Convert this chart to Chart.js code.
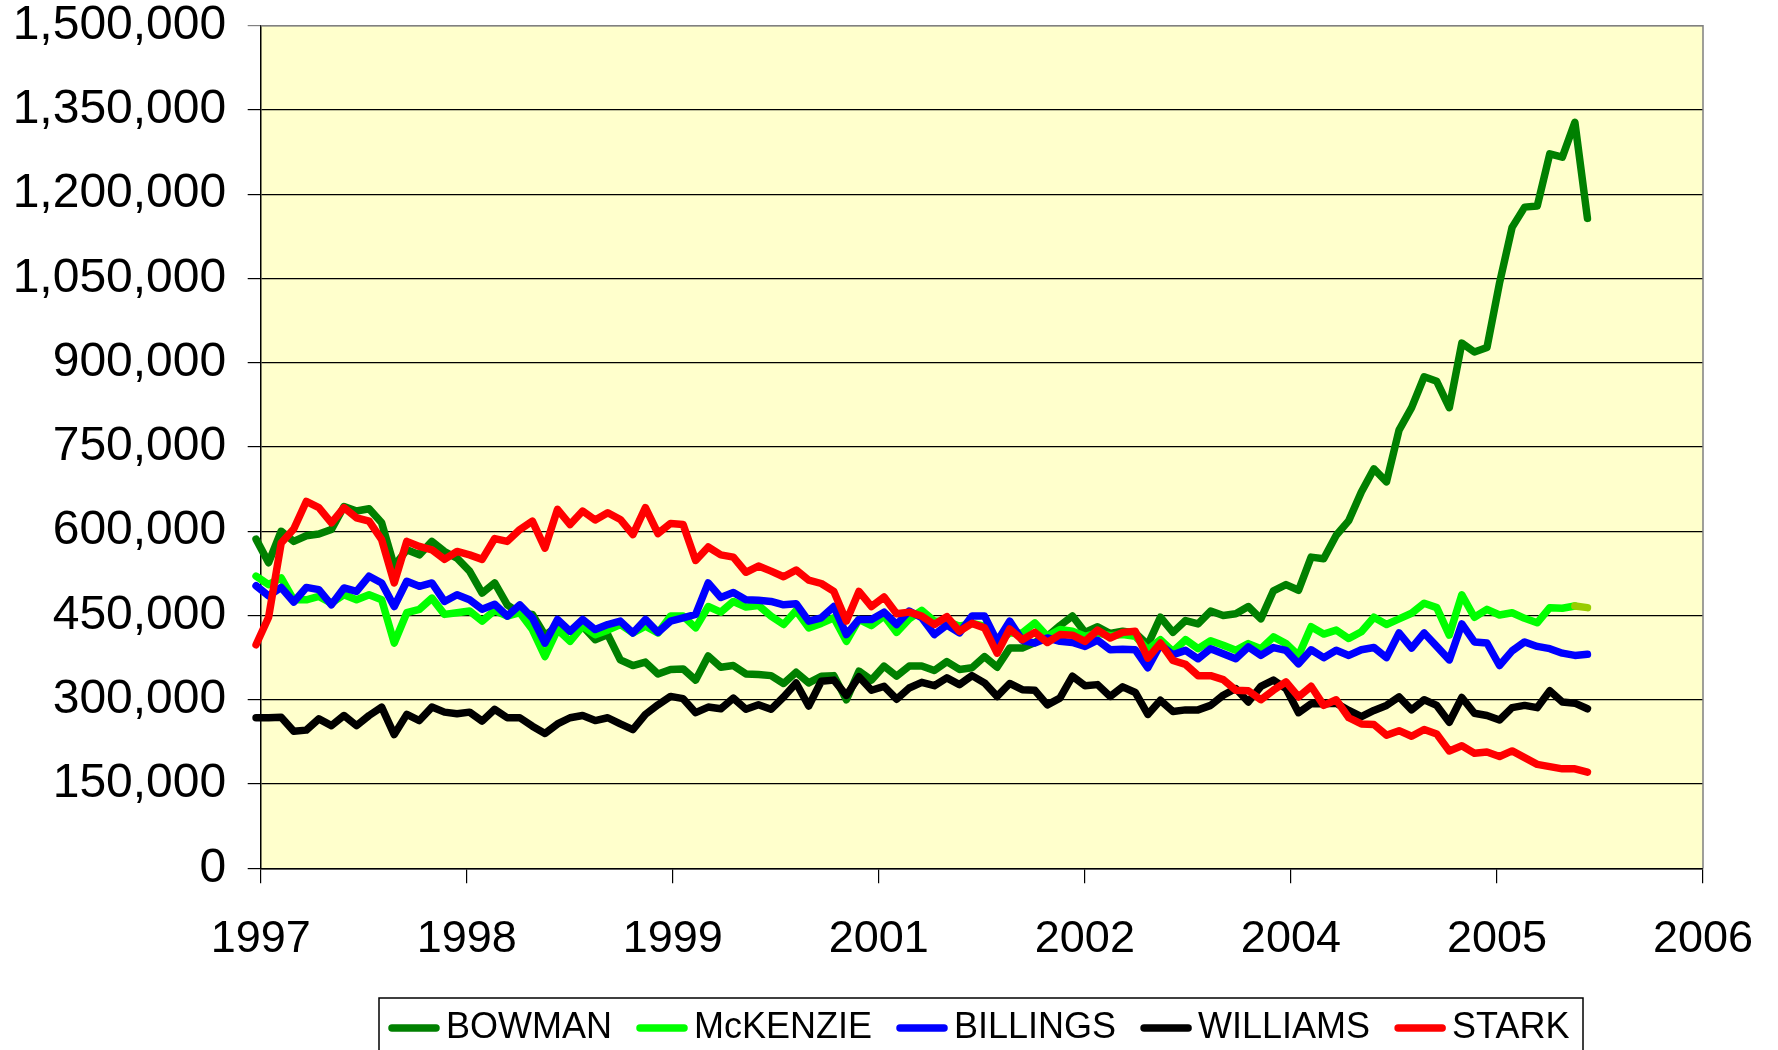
<!DOCTYPE html>
<html>
<head>
<meta charset="utf-8">
<title>County production</title>
<script src="https://cdn.jsdelivr.net/npm/chart.js@4.4.1/dist/chart.umd.min.js"></script>
<style>
  html, body { margin: 0; padding: 0; background: #fff; }
  #wrap { width: 1778px; height: 1050px; }
</style>
</head>
<body>
<div id="wrap"><canvas id="prodChart" width="1778" height="1050"></canvas></div>
<script>
// monthly values, in thousands
const bowman = [586, 544, 600, 582, 592, 595, 603, 644, 636, 640, 615, 538, 567, 558, 582, 564, 552, 529, 490, 508,
  469, 454, 452, 415, 431, 422, 431, 407, 416, 371, 361, 367, 346, 354, 355, 335, 378, 358, 361, 346,
  345, 343, 329, 349, 330, 342, 343, 300, 351, 335, 360, 342, 360, 360, 352, 368, 354, 357, 377, 358,
  392, 392, 402, 413, 432, 449, 420, 430, 418, 422, 419, 398, 447, 420, 441, 435, 458, 450, 453, 466,
  444, 494, 505, 495, 554, 551, 593, 619, 670, 711, 688, 780, 820, 875, 867, 820, 935, 919, 927, 1042,
  1141, 1177, 1179, 1272, 1266, 1328, 1157];
const mckenzie = [520, 505, 517, 478, 478, 484, 472, 487, 478, 487, 478, 401, 455, 461, 481, 452, 455, 458, 440, 459,
  449, 455, 425, 377, 425, 404, 431, 416, 424, 434, 419, 431, 419, 449, 449, 428, 466, 456, 475, 465,
  468, 449, 434, 459, 428, 436, 446, 404, 443, 432, 449, 420, 444, 459, 440, 440, 431, 436, 431, 401,
  419, 419, 437, 413, 425, 422, 413, 419, 414, 416, 413, 389, 407, 386, 407, 391, 405, 397, 388, 400,
  391, 412, 400, 379, 430, 417, 424, 409, 421, 447, 434, 444, 454, 472, 464, 415, 487, 447, 461, 451,
  455, 445, 437, 464, 463, 467, 464];
const billings = [503, 485, 500, 474, 500, 496, 469, 499, 493, 520, 508, 466, 511, 502, 508, 475, 487, 478, 461, 470,
  449, 469, 446, 401, 443, 422, 443, 425, 434, 440, 419, 443, 420, 440, 446, 452, 508, 482, 491, 478,
  477, 475, 469, 471, 440, 446, 466, 416, 443, 443, 456, 434, 458, 446, 416, 433, 419, 449, 449, 404,
  440, 406, 401, 410, 404, 402, 395, 406, 389, 390, 389, 357, 398, 380, 388, 373, 391, 382, 373, 394,
  379, 393, 388, 364, 389, 375, 388, 379, 389, 393, 375, 419, 392, 419, 395, 371, 435, 403, 401, 361,
  387, 403, 395, 391, 383, 379, 381];
const williams = [268, 268, 269, 244, 246, 266, 254, 272, 254, 272, 287, 238, 274, 263, 287, 278, 275, 278, 262, 283,
  268, 268, 253, 240, 257, 268, 272, 263, 268, 257, 247, 274, 291, 306, 302, 277, 287, 284, 303, 283,
  291, 283, 305, 330, 289, 333, 335, 308, 341, 317, 324, 301, 321, 331, 325, 339, 327, 343, 330, 306,
  329, 318, 317, 291, 303, 342, 325, 327, 306, 323, 313, 274, 299, 279, 282, 282, 290, 308, 320, 296,
  324, 335, 320, 277, 293, 293, 294, 281, 270, 281, 290, 305, 282, 300, 290, 260, 304, 276, 272, 264,
  286, 290, 286, 316, 296, 294, 284];
const stark = [398, 447, 579, 604, 653, 642, 615, 642, 624, 618, 585, 508, 582, 573, 567, 550, 564, 558, 550, 587,
  582, 603, 618, 570, 639, 612, 636, 620, 633, 621, 594, 642, 596, 614, 612, 548, 572, 558, 554, 527,
  538, 529, 519, 531, 513, 507, 493, 440, 493, 466, 483, 453, 456, 449, 434, 448, 422, 436, 428, 383,
  426, 407, 420, 402, 416, 415, 404, 424, 410, 420, 422, 374, 401, 370, 363, 343, 343, 336, 317, 316,
  300, 317, 332, 305, 324, 290, 300, 268, 257, 256, 237, 245, 235, 247, 239, 209, 218, 205, 207, 199,
  209, 197, 185, 181, 177, 177, 171];

const seriesNames = ['BOWMAN', 'McKENZIE', 'BILLINGS', 'WILLIAMS', 'STARK'];
const seriesColors = ['#008000', '#00FF00', '#0000FF', '#000000', '#FF0000'];
const xTickLabels = ['1997', '1998', '1999', '2001', '2002', '2004', '2005', '2006'];

// x axis: month index, first point sits a little left of the axis line
const xMin = 0.37;
const xMax = 115.2;

const FONT = "'Liberation Sans', Arial, sans-serif";

function toPoints(arr) {
    return arr.map((v, i) => ({ x: i, y: v }));
}

// plot area fill and frame
const plotFrame = {
    id: 'plotFrame',
    beforeDraw(chart) {
        const a = chart.chartArea;
        const ctx = chart.ctx;
        ctx.save();
        ctx.fillStyle = '#FFFFCC';
        ctx.fillRect(a.left, a.top, a.right - a.left, a.bottom - a.top);
        ctx.restore();
    },
    beforeDatasetsDraw(chart) {
        const a = chart.chartArea;
        const ctx = chart.ctx;
        ctx.save();
        ctx.strokeStyle = '#808080';
        ctx.lineWidth = 1.5;
        ctx.beginPath();
        ctx.moveTo(a.left, a.top);
        ctx.lineTo(a.right, a.top);
        ctx.lineTo(a.right, a.bottom);
        ctx.stroke();
        ctx.restore();
    }
};

// legend in a box under the plot
const boxLegend = {
    id: 'boxLegend',
    afterDraw(chart) {
        const ctx = chart.ctx;
        ctx.save();
        ctx.strokeStyle = '#000';
        ctx.lineWidth = 1.5;
        ctx.strokeRect(379, 998, 1204, 70);
        ctx.font = '36px ' + FONT;
        ctx.textBaseline = 'middle';
        ctx.textAlign = 'left';
        let x = 388;
        const y = 1028;
        chart.data.datasets.forEach(ds => {
            ctx.strokeStyle = ds.borderColor;
            ctx.lineWidth = 7.5;
            ctx.lineCap = 'round';
            ctx.beginPath();
            ctx.moveTo(x + 4, y);
            ctx.lineTo(x + 48, y);
            ctx.stroke();
            ctx.fillStyle = '#000';
            ctx.fillText(ds.label, x + 58, y);
            x += 58 + ctx.measureText(ds.label).width + 24;
        });
        ctx.restore();
    }
};

const allSeries = [bowman, mckenzie, billings, williams, stark];

const datasets = allSeries.map((arr, k) => {
    const ds = {
        label: seriesNames[k],
        data: toPoints(arr),
        borderColor: seriesColors[k],
        backgroundColor: seriesColors[k],
        borderWidth: 7.5,
        pointRadius: 0,
        tension: 0,
        fill: false,
        clip: false,
        borderCapStyle: 'round',
        borderJoinStyle: 'round',
        order: allSeries.length - k
    };
    if (seriesNames[k] === 'McKENZIE') {
        ds.segment = {
            borderColor: c => c.p1DataIndex === arr.length - 1 ? '#99CC00' : undefined
        };
    }
    return ds;
});

const ctx = document.getElementById('prodChart').getContext('2d');
new Chart(ctx, {
    type: 'line',
    data: { datasets: datasets },
    options: {
        responsive: false,
        animation: false,
        devicePixelRatio: 1,
        layout: { padding: { left: 0, right: 75, top: 25.7, bottom: 0 } },
        plugins: {
            legend: { display: false },
            tooltip: { enabled: false }
        },
        scales: {
            x: {
                type: 'linear',
                min: xMin,
                max: xMax,
                afterBuildTicks(scale) {
                    const step = (xMax - xMin) / (xTickLabels.length - 1);
                    scale.ticks = xTickLabels.map((_, k) => ({ value: xMin + k * step }));
                },
                afterFit(scale) {
                    scale.height = 181.7;
                    scale.paddingLeft = 0;
                    scale.paddingRight = 0;
                },
                ticks: {
                    autoSkip: false,
                    maxRotation: 0,
                    color: '#000',
                    padding: 34,
                    font: { family: FONT, size: 45, lineHeight: 1 },
                    callback: (value, index) => xTickLabels[index]
                },
                grid: {
                    drawOnChartArea: false,
                    drawTicks: true,
                    tickLength: 15,
                    color: '#000',
                    lineWidth: 1.2
                },
                border: { color: '#000', width: 1.5 }
            },
            y: {
                min: 0,
                max: 1500,
                afterFit(scale) {
                    scale.width = 260.7;
                    scale.paddingTop = 0;
                    scale.paddingBottom = 0;
                },
                ticks: {
                    stepSize: 150,
                    color: '#000',
                    padding: 21.5,
                    font: { family: FONT, size: 48, lineHeight: 1 },
                    callback: value => (value * 1000).toLocaleString('en-US')
                },
                grid: {
                    color: c => c.tick && c.tick.value === 1500 ? '#808080' : '#000',
                    lineWidth: 1.2,
                    tickLength: 13
                },
                border: { color: '#000', width: 1.5 }
            }
        }
    },
    plugins: [plotFrame, boxLegend]
});
</script>
</body>
</html>
